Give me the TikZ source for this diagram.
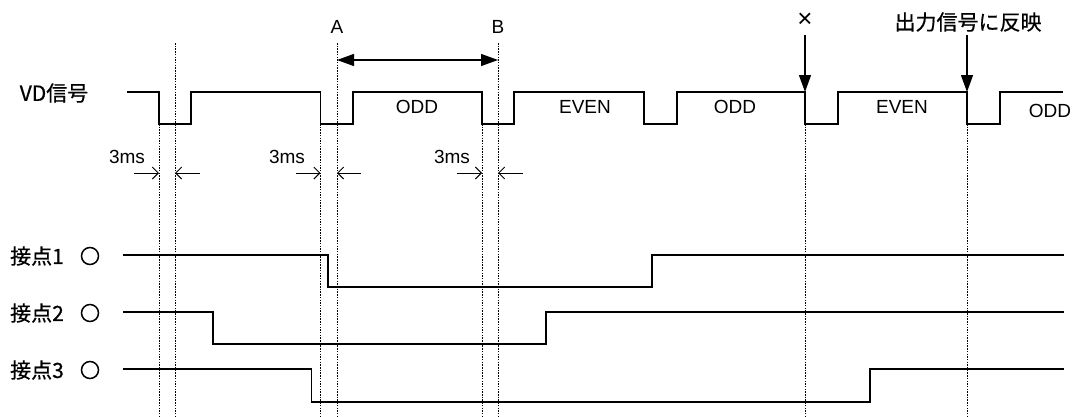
\documentclass[tikz,border=0pt]{standalone}
\usepackage{fontspec}
\setmainfont{Liberation Sans}
\newfontfamily\jp[FakeBold=0.6]{Noto Sans CJK JP}
\usetikzlibrary{arrows.meta}
\tikzset{
  sig/.style={line width=1.3pt, line join=miter},
  guide/.style={line width=1pt, dash pattern=on 1.5pt off 1.2pt},
  lbl/.style={font=\fontsize{19}{19}\selectfont, inner sep=0pt},
  jlbl/.style={font=\jp\fontsize{21}{21}\selectfont, inner sep=0pt},
  dimarrow/.style={line width=0.9pt, -{Straight Barb[length=6pt,width=12pt]}},
  bigarrow/.style={line width=1.3pt, -{Triangle[length=17pt,width=12pt]}},
  bothbig/.style={line width=1.3pt, {Triangle[length=17pt,width=12pt]}-{Triangle[length=17pt,width=12pt]}},
  ring/.style={circle, draw, line width=1.5pt, minimum size=17pt, inner sep=0pt}
}
\begin{document}
\begin{tikzpicture}[x=1pt,y=-1pt]
\useasboundingbox (0,0) rectangle (1078,416);

% VD signal
\node[jlbl] (vd) at (54,93) {VD信号};
\draw[sig] (127,92) -| (159,124) -| (191,92) -| (320.5,124) -| (353,92) -| (482,124) -| (514,92)
  -| (644,124) -| (677,92) -| (805,124) -| (838,92) -| (967,124) -| (1000,92) -- (1063,92);

\node[lbl] (odd1) at (417,107) {ODD};
\node[lbl] (even1) at (585,107) {EVEN};
\node[lbl] (odd2) at (735,107) {ODD};
\node[lbl] (even2) at (902,107) {EVEN};
\node[lbl] (odd3) at (1050,111) {ODD};

% guide lines
\coordinate (g1t) at (159,124); \coordinate (g1b) at (159,416);
\coordinate (g2t) at (175,43);  \coordinate (g2b) at (175,416);
\coordinate (g3t) at (320.5,124); \coordinate (g3b) at (320.5,416);
\coordinate (g4t) at (337,43);  \coordinate (g4b) at (337,416);
\coordinate (g5t) at (482,124); \coordinate (g5b) at (482,416);
\coordinate (g6t) at (498,43);  \coordinate (g6b) at (498,416);
\coordinate (g7t) at (805,124); \coordinate (g7b) at (805,416);
\coordinate (g8t) at (967,124); \coordinate (g8b) at (967,416);
\foreach \i in {1,...,8} \draw[guide] (g\i t) -- (g\i b);

% A / B
\node[lbl] (A) at (337,27) {A};
\node[lbl] (B) at (498,27) {B};
\coordinate (ab1) at (337,60);
\coordinate (ab2) at (498,60);
\draw[bothbig] (ab1) -- (ab2);

% top arrows
\node[lbl, font=\fontsize{26}{26}\selectfont] (x) at (805,20) {×};
\node[jlbl] (out) at (968,22) {出力信号に反映};
\coordinate (xs) at (805,35); \coordinate (xe) at (805,92);
\coordinate (os) at (967,35); \coordinate (oe) at (967,92);
\draw[bigarrow] (xs) -- (xe);
\draw[bigarrow] (os) -- (oe);

% 3ms
\node[lbl] (t1) at (127,157) {3ms};
\node[lbl] (t2) at (287,157) {3ms};
\node[lbl] (t3) at (452,157) {3ms};
\coordinate (a1) at (134,173); \coordinate (a1e) at (159,173);
\coordinate (a2) at (200,173); \coordinate (a2e) at (175,173);
\coordinate (a3) at (296,173); \coordinate (a3e) at (320.5,173);
\coordinate (a4) at (361,173); \coordinate (a4e) at (337,173);
\coordinate (a5) at (457,173); \coordinate (a5e) at (482,173);
\coordinate (a6) at (523,173); \coordinate (a6e) at (498,173);
\foreach \i in {1,...,6} \draw[dimarrow] (a\i) -- (a\i e);

% contacts
\node[jlbl] (k1) at (37,256) {接点1};
\node[jlbl] (k2) at (37,313) {接点2};
\node[jlbl] (k3) at (37,370) {接点3};
\node[ring] (r1) at (90,256) {};
\node[ring] (r2) at (90,313) {};
\node[ring] (r3) at (90,370) {};
\draw[sig] (123,255) -| (328,287) -| (652,255) -- (1064,255);
\draw[sig] (123,312) -| (213,344) -| (546,312) -- (1064,312);
\draw[sig] (123,369) -| (311.5,402) -| (870,369) -- (1064,369);
\end{tikzpicture}
\end{document}
